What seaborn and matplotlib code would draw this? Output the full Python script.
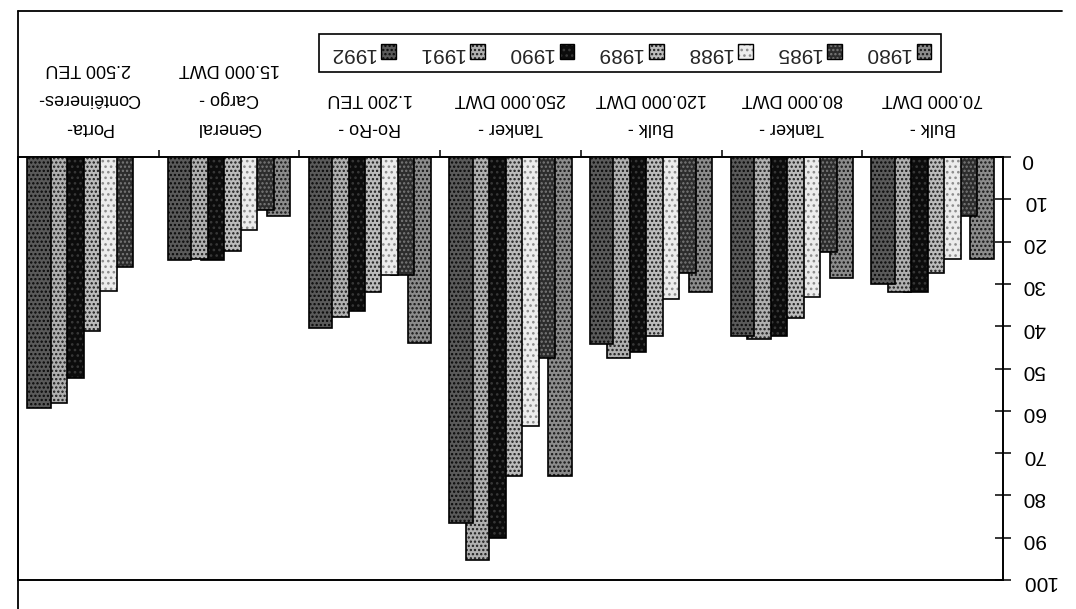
import numpy as np
import pandas as pd
import matplotlib
matplotlib.use("Agg")
import matplotlib.pyplot as plt
from matplotlib.patches import Patch, Rectangle
from matplotlib.lines import Line2D
from matplotlib.legend_handler import HandlerTuple
import seaborn as sns

# Ship types and reference sizes
categories = [
    "Bulk -\n70.000 DWT",
    "Tanker -\n80.000 DWT",
    "Bulk -\n120.000 DWT",
    "Tanker -\n250.000 DWT",
    "Ro-Ro -\n1.200 TEU",
    "General\nCargo -\n15.000 DWT",
    "Porta-\nContêineres-\n2.500 TEU",
]
years = ["1980", "1985", "1988", "1989", "1990", "1991", "1992"]

v1980 = [24.0, 28.5, 32.0, 75.5, 44.0, 14.0, np.nan]
v1985 = [14.0, 22.5, 27.5, 47.5, 28.0, 12.5, 26.0]
v1988 = [24.0, 33.0, 33.5, 63.5, 27.8, 17.2, 31.7]
v1989 = [27.5, 38.0, 42.3, 75.5, 31.8, 22.2, 41.1]
v1990 = [32.0, 42.2, 46.0, 90.0, 36.3, 24.4, 52.2]
v1991 = [32.0, 43.0, 47.6, 95.3, 37.9, 24.1, 58.2]
v1992 = [30.0, 42.2, 44.2, 86.5, 40.5, 24.4, 59.3]

y_ticks = [0, 10, 20, 30, 40, 50, 60, 70, 80, 90, 100]

series = [v1980, v1985, v1988, v1989, v1990, v1991, v1992]
df = pd.DataFrame({
    "tipo": np.tile(categories, len(years)),
    "ano": np.repeat(years, len(categories)),
    "valor": np.concatenate([np.asarray(s, dtype=float) for s in series]),
})

# Halftone-like fills: base colour plus dot colour per year
fills = ["#8c8c8c", "#2c2c2c", "#ececec", "#bcbcbc", "#0c0c0c", "#b0b0b0", "#5a5a5a"]
dots = ["#141414", "#7a7a7a", "#8c8c8c", "#1c1c1c", "#383838", "#1c1c1c", "#080808"]
hatches = ["....", "....", "...", "....", "...", "....", "...."]

sns.set_theme(style="white")
plt.rcParams["font.family"] = ["Liberation Sans", "DejaVu Sans"]
plt.rcParams["hatch.linewidth"] = 1.1

W, H = 1076, 609
fig = plt.figure(figsize=(W / 100, H / 100), dpi=100)
fig.patch.set_facecolor("white")
ax = fig.add_axes([18 / W, 29 / H, 985 / W, 423 / H])
ax.set_facecolor("white")

sns.barplot(data=df, x="tipo", y="valor", hue="ano", order=categories,
            hue_order=years, palette=fills, width=0.82, errorbar=None,
            edgecolor="black", linewidth=1, legend=False, ax=ax)

# Overlapping bars with dotted texture and black outlines
widen = 1.42
for i, cont in enumerate(ax.containers):
    z = 2 + 0.1 * i
    for p in cont.patches:
        w = p.get_width()
        p.set_x(p.get_x() - w * (widen - 1) / 2)
        p.set_width(w * widen)
        p.set_edgecolor(dots[i])
        p.set_linewidth(0)
        p.set_hatch(hatches[i])
        p.set_zorder(z)
        ax.add_patch(Rectangle(p.get_xy(), p.get_width(), p.get_height(),
                               fill=False, edgecolor="black", linewidth=1.2,
                               zorder=z + 0.05))

# Chart is shown turned half a revolution: both axes reversed
ax.set_xlim(len(categories) - 0.5, -0.5)
ax.set_ylim(100, 0)
ax.set_xlabel("")
ax.set_ylabel("")

for side in ["top", "right", "bottom", "left"]:
    ax.spines[side].set_visible(True)
    ax.spines[side].set_color("black")
    ax.spines[side].set_linewidth(1.4)

ax.yaxis.tick_right()
ax.set_yticks(y_ticks)
ax.set_yticklabels([str(t) for t in y_ticks])
ax.tick_params(axis="y", which="major", right=True, left=False,
               direction="inout", length=11, width=1.1, color="black",
               labelsize=15, labelrotation=180, pad=8, labelcolor="black")

ax.xaxis.set_ticks_position("top")
ax.tick_params(axis="x", which="major", top=True, bottom=False,
               labeltop=True, labelbottom=False, length=0, pad=15,
               labelsize=13, labelrotation=180, labelcolor="black")
ax.set_xticks(np.arange(0.5, len(categories) - 1, 1.0), minor=True)
ax.tick_params(axis="x", which="minor", top=True, bottom=False,
               direction="out", length=5, width=1.1, color="black")
for lab in ax.get_xticklabels():
    lab.set_linespacing(1.95)
    lab.set_multialignment("center")

# Legend: label then swatch, newest year first
handles = [(ax.containers[i].patches[0],
            Patch(fill=False, edgecolor="black", linewidth=1.0))
           for i in range(len(years))][::-1]
leg = fig.legend(handles, years[::-1], loc="center",
                 bbox_to_anchor=(630 / W, 1 - 53 / H), ncol=len(years),
                 markerfirst=False, frameon=True, fancybox=False,
                 edgecolor="black", framealpha=1, fontsize=15,
                 handlelength=0.7, handleheight=0.7, handletextpad=0.3,
                 columnspacing=1.05, borderpad=0.45,
                 handler_map={tuple: HandlerTuple(ndivide=1, pad=0)})
leg.get_frame().set_linewidth(1.2)
for t in leg.get_texts():
    t.set_rotation(180)

# Chart frame
fig.add_artist(Line2D([18 / W, 1062 / W], [1 - 11 / H, 1 - 11 / H],
                      transform=fig.transFigure, color="black", linewidth=1.3))
fig.add_artist(Line2D([18 / W, 18 / W], [0, 1 - 11 / H],
                      transform=fig.transFigure, color="black", linewidth=1.3))

fig.savefig("out.png", dpi=100, facecolor="white")
